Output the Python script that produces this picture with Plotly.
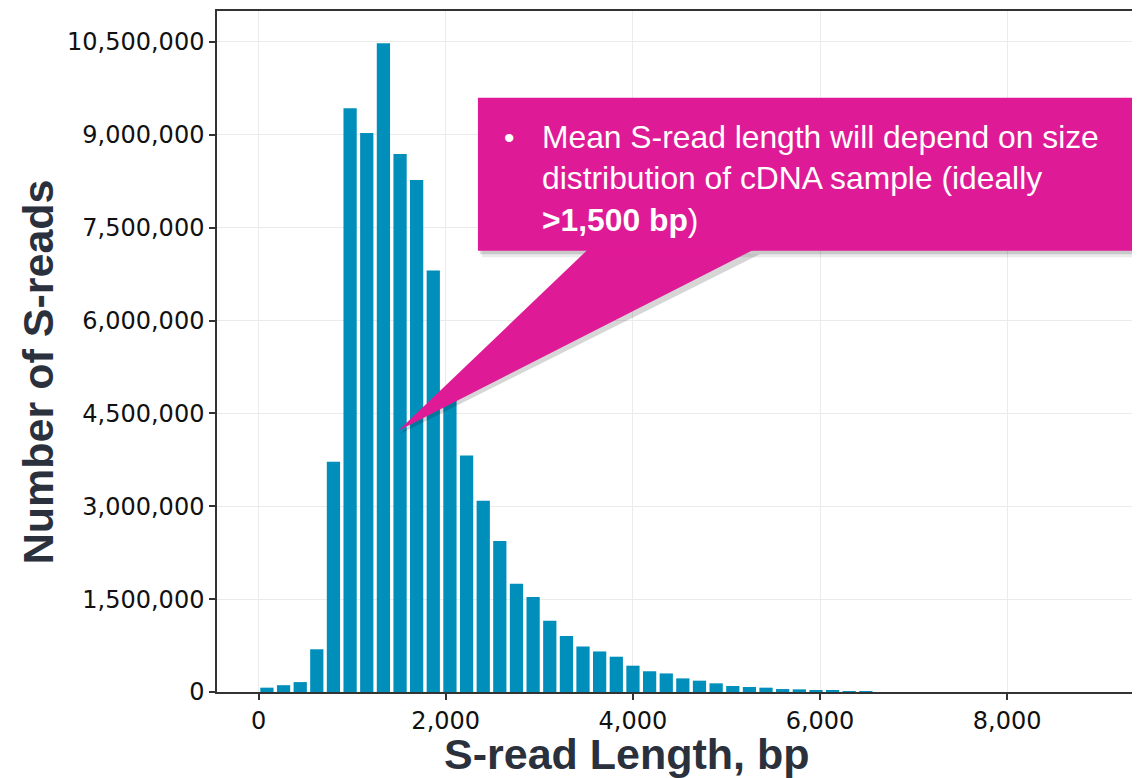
import plotly.graph_objects as go

# bin centres (bp) of the S-read length histogram
bin_centers = [89, 267, 445, 622, 800, 978, 1156, 1334, 1512, 1689,
               1867, 2045, 2223, 2401, 2578, 2756, 2934, 3112, 3290, 3467,
               3645, 3823, 4001, 4179, 4357, 4534, 4712, 4890, 5068, 5246,
               5423, 5601, 5779, 5957, 6135, 6312, 6490]
read_counts = [70000, 110000, 160000, 690000, 3720000, 9430000, 9030000, 10480000, 8690000, 8270000,
               6810000, 4750000, 3820000, 3090000, 2440000, 1750000, 1535000, 1150000, 905000, 735000,
               655000, 570000, 425000, 335000, 300000, 220000, 183000, 140000, 97000, 81000,
               70000, 48000, 43000, 32000, 22000, 16000, 10000]
y_ticks = [0, 1500000, 3000000, 4500000, 6000000, 7500000, 9000000, 10500000]
x_ticks = [0, 2000, 4000, 6000, 8000]

callout_text = ("Mean S-read length will depend on size<br>"
                "distribution of cDNA sample (ideally<br>"
                "<b>>1,500 bp</b>)")

# plot area in page pixels; the page body adds an 8px offset
L, R, T, B = 217, 1132.3, 10.7, 692
OFF = 8
W, H = 1132, 770


def px(x):
    return (x - L) / (R - L)


def py(y):
    return (B - y) / (B - T)


fig = go.Figure(
    go.Bar(
        x=bin_centers,
        y=read_counts,
        marker=dict(color="#008FBA", line=dict(width=0)),
    )
)

magenta = "#DF1A96"
tri = "M {} {} L {} {} L {} {} Z"

shapes = [
    # soft shadows
    dict(type="rect", xref="paper", yref="paper", layer="above",
         x0=px(482), x1=px(1160), y0=py(257), y1=py(103),
         fillcolor="rgba(0,0,0,0.08)", line=dict(width=0)),
    dict(type="rect", xref="paper", yref="paper", layer="above",
         x0=px(480), x1=px(1160), y0=py(254), y1=py(101),
         fillcolor="rgba(0,0,0,0.14)", line=dict(width=0)),
    dict(type="path", xref="paper", yref="paper", layer="above",
         path=tri.format(px(592), py(250), px(400), py(434), px(760), py(254)),
         fillcolor="rgba(0,0,0,0.16)", line=dict(width=0)),
    # callout box and pointer
    dict(type="rect", xref="paper", yref="paper", layer="above",
         x0=px(478), x1=px(1160), y0=py(250.5), y1=py(97.5),
         fillcolor=magenta, line=dict(width=0)),
    dict(type="path", xref="paper", yref="paper", layer="above",
         path=tri.format(px(589.3), py(248), px(398.3), py(430.7), px(756.7), py(248)),
         fillcolor=magenta, line=dict(width=0)),
]

title_font = dict(family="Liberation Sans, Arial", size=43, color="#2B303D", weight="bold")

annotations = [
    dict(xref="paper", yref="paper", x=px(510), y=py(137), text="•",
         showarrow=False, xanchor="center", yanchor="middle",
         font=dict(family="Liberation Sans, Arial", size=30, color="white")),
    dict(xref="paper", yref="paper", x=px(540), y=py(178), text=callout_text,
         showarrow=False, xanchor="left", yanchor="middle", align="left",
         font=dict(family="Liberation Sans, Arial", size=31.8, color="white")),
    # axis titles (placed off-centre as in the original slide)
    dict(xref="paper", yref="paper", x=px(627), y=py(754), text="S-read Length, bp",
         showarrow=False, xanchor="center", yanchor="middle", font=title_font),
    dict(xref="paper", yref="paper", x=px(38), y=py(372), text="Number of S-reads",
         showarrow=False, xanchor="center", yanchor="middle", textangle=-90,
         font=title_font),
]

axis_common = dict(
    showline=True, linecolor="#333333", linewidth=1.5, mirror=True,
    ticks="outside", ticklen=6, tickcolor="#333333", tickwidth=1.5,
    showgrid=True, gridcolor="#EBEBEB", gridwidth=1,
    zeroline=False, tickformat=",", automargin=False,
    tickfont=dict(family="DejaVu Sans", size=24, color="#111111"),
)

fig.update_layout(
    width=W, height=H,
    margin=dict(l=L - OFF, r=W - (R - OFF), t=T - OFF, b=H - (B - OFF)),
    paper_bgcolor="white", plot_bgcolor="white",
    bargap=0.2,
    showlegend=False,
    shapes=shapes,
    annotations=annotations,
    xaxis=dict(axis_common, range=[-444.5, 9334.5], tickvals=x_ticks),
    yaxis=dict(axis_common, range=[0, 11000000], tickvals=y_ticks),
)

fig.write_html("out.html")
